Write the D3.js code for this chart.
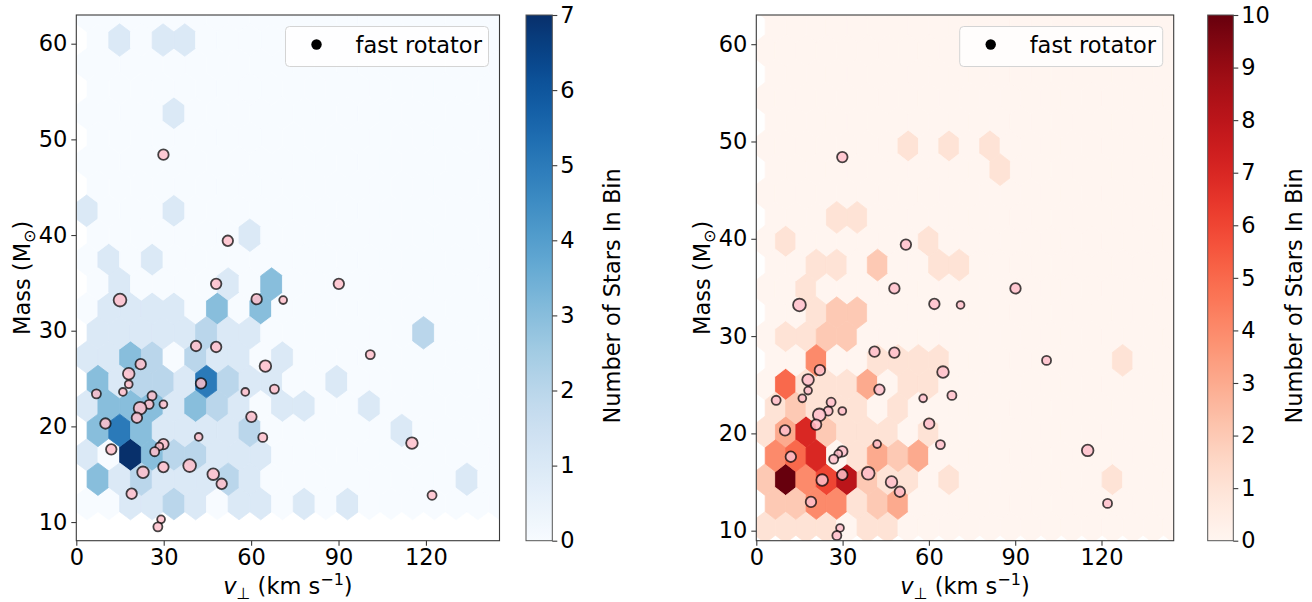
<!DOCTYPE html>
<html>
<head>
<meta charset="utf-8">
<script src="https://cdn.jsdelivr.net/npm/d3@7"></script>
<style>
  body { margin: 0; background: #fff; }
  svg text { font-family: "DejaVu Sans", sans-serif; fill: #000; }
</style>
</head>
<body>
<svg id="fig" width="1312" height="602"></svg>
<script>
// ---------- data ----------
// Fast rotators: perpendicular velocity (km/s), mass (Msun), marker size value
const vPerp = [29.9, 52.0, 48.0, 90.1, 15.0, 61.9, 71.0, 41.1, 48.0, 100.9,
               22.1, 64.9, 18.0, 18.0, 42.8, 68.0, 6.9, 16.0, 58.0, 26.0,
               25.0, 29.9, 21.9, 20.8, 60.1, 10.0, 42.0, 64.0, 115.2, 12.0,
               29.9, 28.5, 26.9, 38.9, 29.9, 22.9, 47.0, 49.9, 122.1, 19.0,
               29.1, 28.0];
const massVals = [48.4, 39.4, 34.9, 34.9, 33.2, 33.3, 33.2, 28.4, 28.3, 27.5,
                  26.5, 26.3, 25.5, 24.4, 24.5, 23.9, 23.4, 23.6, 23.6, 23.2,
                  22.3, 22.3, 21.9, 20.9, 21.0, 20.3, 18.9, 18.85, 18.25, 17.6,
                  18.15, 17.9, 17.35, 15.9, 15.75, 15.2, 15.0, 14.0, 12.8, 12.96,
                  10.28, 9.5];
const markerSize = [27, 27, 27, 27, 40, 27, 15, 27, 27, 20,
                    27, 33, 33, 15, 27, 20, 20, 15, 15, 20,
                    20, 15, 40, 27, 27, 27, 15, 20, 33, 27,
                    27, 15, 20, 40, 27, 33, 33, 27, 20, 27,
                    15, 20];

// Hexagonal binning grids (matplotlib-style two offset lattices)
const blueGrid = {x0: 3.7, dx: 7.45, y0: 11.93, dy: 5.1, nx: 19, ny: 10};
const redGrid  = {x0: 3.1, dx: 7.1,  y0: 10.35, dy: 4.9, nx: 20, ny: 11};

// Non-empty bins: [column, row, count] on the doubled lattice
// (even column/row = main lattice, odd column/row = offset lattice)
const blueCells = [
  [3,19,1],[7,19,1],[9,19,1],
  [8,16,1],
  [0,12,1],[8,12,1],
  [15,11,1],
  [2,10,1],[6,10,1],
  [3,9,1],[13,9,1],[17,9,3],
  [2,8,1],[4,8,1],[6,8,1],[8,8,1],[12,8,3],[16,8,3],
  [1,7,1],[3,7,1],[5,7,1],[7,7,1],[9,7,1],[11,7,2],[13,7,1],[15,7,1],[31,7,2],
  [0,6,1],[2,6,1],[4,6,3],[6,6,2],[10,6,2],[12,6,1],[14,6,1],[18,6,1],
  [1,5,3],[3,5,1],[5,5,2],[7,5,2],[9,5,1],[11,5,5],[13,5,2],[15,5,1],[17,5,1],[23,5,1],
  [0,4,1],[2,4,3],[4,4,3],[6,4,3],[8,4,1],[10,4,3],[12,4,2],[14,4,1],[18,4,1],[20,4,1],[26,4,1],
  [1,3,3],[3,3,5],[5,3,3],[7,3,1],[9,3,1],[11,3,1],[13,3,1],[15,3,2],[29,3,1],
  [0,2,1],[4,2,7],[6,2,3],[8,2,2],[10,2,2],[12,2,1],[14,2,1],[16,2,1],
  [1,1,3],[3,1,1],[5,1,2],[7,1,1],[9,1,1],[11,1,1],[13,1,2],[15,1,1],[35,1,1],
  [4,0,1],[6,0,1],[8,0,2],[10,0,1],[14,0,1],[16,0,1],[20,0,1],[24,0,1]
];
const redCells = [
  [14,16,1],[18,16,1],[22,16,1],
  [23,15,1],
  [7,13,1],[9,13,1],
  [2,12,1],[16,12,1],
  [5,11,1],[7,11,1],[11,11,2],[17,11,1],[19,11,1],
  [4,10,1],
  [5,9,1],[7,9,2],[9,9,2],
  [2,8,1],[4,8,1],[6,8,2],[8,8,2],
  [5,7,4],[11,7,1],[13,7,1],[15,7,1],[17,7,1],[35,7,1],
  [2,6,5],[4,6,1],[6,6,1],[8,6,1],[10,6,3],[14,6,1],[16,6,1],
  [1,5,1],[3,5,2],[5,5,1],[7,5,1],[9,5,1],[13,5,1],
  [0,4,1],[2,4,3],[4,4,7],[6,4,2],[8,4,1],[10,4,1],[12,4,1],[16,4,1],[23,4,1],
  [1,3,4],[3,3,5],[5,3,7],[9,3,1],[11,3,3],[13,3,2],[15,3,3],[22,3,1],[24,3,1],
  [0,2,2],[2,2,10],[4,2,4],[6,2,6],[8,2,8],[10,2,2],[12,2,1],[14,2,1],[18,2,1],[34,2,1],
  [1,1,2],[3,1,2],[5,1,4],[7,1,4],[9,1,1],[11,1,2],[13,1,3],
  [0,0,1],[2,0,1],[4,0,1],[6,0,1],[10,0,1],[12,0,1]
];

const xTicks = [0, 30, 60, 90, 120];
const yTicks = [10, 20, 30, 40, 50, 60];
const blueBarTicks = [0, 1, 2, 3, 4, 5, 6, 7];
const redBarTicks = [0, 1, 2, 3, 4, 5, 6, 7, 8, 9, 10];

// ---------- drawing ----------
const svg = d3.select("#fig");
const FONT = 22.5;

const panels = [
  {id: "b", left: 76.3, right: 499.5, xDom: [0, 145.25], yDom: [8.05, 63.0],
   grid: blueGrid, cells: blueCells, interp: d3.interpolateBlues, barTicks: blueBarTicks,
   barX: 526, barW: 26.3, labelX: 21.7, barLabelX: 620},
  {id: "r", left: 756.3, right: 1173.7, xDom: [0, 145.1], yDom: [8.97, 63.0],
   grid: redGrid, cells: redCells, interp: d3.interpolateReds, barTicks: redBarTicks,
   barX: 1207.7, barW: 25.6, labelX: 701.7, barLabelX: 1301.7}
];
const TOP = 15, BOTTOM = 540.7;

panels.forEach(p => {
  const x = d3.scaleLinear().domain(p.xDom).range([p.left, p.right]);
  const y = d3.scaleLinear().domain(p.yDom).range([BOTTOM, TOP]);
  const cmax = d3.max(p.barTicks);
  const color = d3.scaleSequential(p.interp).domain([0, cmax]);

  svg.append("clipPath").attr("id", "clip-" + p.id)
    .append("rect").attr("x", p.left).attr("y", TOP)
    .attr("width", p.right - p.left).attr("height", BOTTOM - TOP);

  // bins, including empty ones
  const counts = new Map(p.cells.map(([c, r, n]) => [c + "," + r, n]));
  const g = p.grid;
  const bins = [];
  for (let i = 0; i <= g.nx; i++)
    for (let j = 0; j <= g.ny; j++) bins.push([2 * i, 2 * j]);
  for (let i = 0; i < g.nx; i++)
    for (let j = 0; j < g.ny; j++) bins.push([2 * i + 1, 2 * j + 1]);

  const hexOffsets = [[0, g.dy / 3], [g.dx / 2, g.dy / 6], [g.dx / 2, -g.dy / 6],
                      [0, -g.dy / 3], [-g.dx / 2, -g.dy / 6], [-g.dx / 2, g.dy / 6]];
  const hexLine = d3.line().x(d => x(d[0])).y(d => y(d[1]));

  const hexLayer = svg.append("g").attr("clip-path", "url(#clip-" + p.id + ")");
  hexLayer.selectAll("path").data(bins).join("path")
    .attr("d", ([c, r]) => {
      const cx = g.x0 + c * g.dx / 2, cy = g.y0 + r * g.dy / 2;
      return hexLine(hexOffsets.map(([ox, oy]) => [cx + ox, cy + oy])) + "Z";
    })
    .attr("fill", ([c, r]) => color(counts.get(c + "," + r) || 0))
    .attr("stroke", ([c, r]) => color(counts.get(c + "," + r) || 0))
    .attr("stroke-width", 0.8);

  // fast rotators
  const rSize = d3.scaleSqrt().domain([0, 40]).range([0, 6.4]);
  const ptLayer = svg.append("g").attr("clip-path", "url(#clip-" + p.id + ")");
  ptLayer.selectAll("circle").data(d3.range(vPerp.length)).join("circle")
    .attr("cx", i => x(vPerp[i]))
    .attr("cy", i => y(massVals[i]))
    .attr("r", i => rSize(markerSize[i]))
    .attr("fill", "#ffc0cb").attr("fill-opacity", 0.85)
    .attr("stroke", "#000").attr("stroke-opacity", 0.72).attr("stroke-width", 1.8);

  // frame
  svg.append("rect").attr("x", p.left).attr("y", TOP)
    .attr("width", p.right - p.left).attr("height", BOTTOM - TOP)
    .attr("fill", "none").attr("stroke", "#3a3a3a").attr("stroke-width", 1.1);

  // axes
  const xAxis = svg.append("g").attr("transform", `translate(0,${BOTTOM})`)
    .call(d3.axisBottom(x).tickValues(xTicks).tickSize(5).tickPadding(3).tickFormat(d3.format("d")));
  const yAxis = svg.append("g").attr("transform", `translate(${p.left},0)`)
    .call(d3.axisLeft(y).tickValues(yTicks).tickSize(5).tickPadding(4).tickFormat(d3.format("d")));
  [xAxis, yAxis].forEach(a => {
    a.select(".domain").remove();
    a.selectAll(".tick line").attr("stroke", "#3a3a3a").attr("stroke-width", 1.1);
    a.selectAll(".tick text").attr("font-size", FONT).attr("font-family", "DejaVu Sans").attr("fill", "#000");
  });

  // axis labels
  const cx = (p.left + p.right) / 2;
  const xl = svg.append("text").attr("x", cx).attr("y", 594)
    .attr("text-anchor", "middle").attr("font-size", FONT);
  xl.append("tspan").attr("font-style", "italic").text("v");
  xl.append("tspan").attr("dy", 5).attr("font-size", 16).text("⊥");
  xl.append("tspan").attr("dy", -5).text(" (km s");
  xl.append("tspan").attr("dy", -9).attr("font-size", 16).text("−1");
  xl.append("tspan").attr("dy", 9).text(")");

  const yl = svg.append("text")
    .attr("transform", `translate(${p.labelX + 8},${(TOP + BOTTOM) / 2}) rotate(-90)`)
    .attr("text-anchor", "middle").attr("font-size", FONT);
  yl.append("tspan").text("Mass (M");
  yl.append("tspan").attr("dy", 5).attr("font-size", 16).text("⊙");
  yl.append("tspan").attr("dy", -5).text(")");

  // legend
  const lgW = 203, lgH = 40;
  const lgX = p.right - 11 - lgW, lgY = TOP + 11.5;
  svg.append("rect").attr("x", lgX).attr("y", lgY).attr("width", lgW).attr("height", lgH)
    .attr("rx", 4).attr("fill", "#fff").attr("fill-opacity", 0.8)
    .attr("stroke", "#d4d4d4").attr("stroke-width", 1);
  svg.append("circle").attr("cx", lgX + 31).attr("cy", lgY + lgH / 2 - 2)
    .attr("r", 5.2).attr("fill", "#000");
  svg.append("text").attr("x", lgX + 70).attr("y", lgY + lgH / 2 + 6)
    .attr("font-size", FONT).text("fast rotator");

  // colorbar
  const gradId = "grad-" + p.id;
  const grad = svg.append("defs").append("linearGradient").attr("id", gradId)
    .attr("x1", 0).attr("y1", 1).attr("x2", 0).attr("y2", 0);
  d3.range(0, 1.0001, 0.02).forEach(t => {
    grad.append("stop").attr("offset", t).attr("stop-color", p.interp(t));
  });
  svg.append("rect").attr("x", p.barX).attr("y", TOP).attr("width", p.barW)
    .attr("height", BOTTOM - TOP).attr("fill", `url(#${gradId})`)
    .attr("stroke", "#555").attr("stroke-width", 1);
  const cb = d3.scaleLinear().domain([0, cmax]).range([BOTTOM, TOP]);
  const cbAxis = svg.append("g").attr("transform", `translate(${p.barX + p.barW},0)`)
    .call(d3.axisRight(cb).tickValues(p.barTicks).tickSize(5).tickPadding(3).tickFormat(d3.format("d")));
  cbAxis.select(".domain").remove();
  cbAxis.selectAll(".tick line").attr("stroke", "#3a3a3a").attr("stroke-width", 1.1);
  cbAxis.selectAll(".tick text").attr("font-size", FONT).attr("font-family", "DejaVu Sans").attr("fill", "#000");

  svg.append("text")
    .attr("transform", `translate(${p.barLabelX},${(TOP + BOTTOM) / 2 + 18}) rotate(-90)`)
    .attr("text-anchor", "middle").attr("font-size", FONT)
    .text("Number of Stars In Bin");
});
</script>
</body>
</html>
